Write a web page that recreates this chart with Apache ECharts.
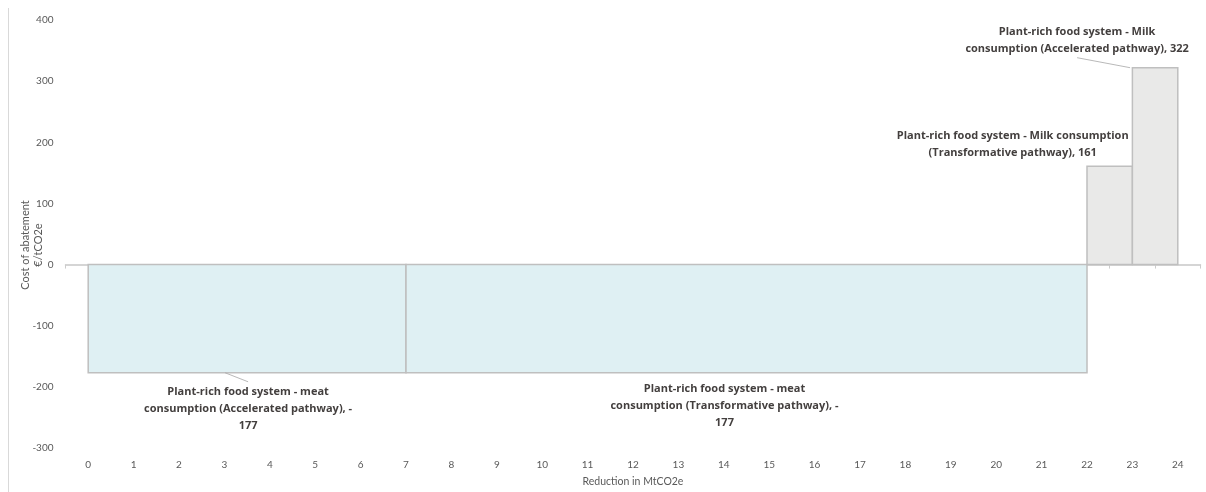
<!DOCTYPE html>
<html>
<head>
<meta charset="utf-8">
<script src="https://cdn.jsdelivr.net/npm/echarts@6/dist/echarts.min.js"></script>
<style>
  html, body { margin: 0; padding: 0; background: #ffffff; }
  #chart { width: 1206px; height: 492px; }
</style>
</head>
<body>
<div id="chart"></div>
<script>
// Abatement measures, their reduction volumes (MtCO2e) and costs (€/tCO2e)
const measureNames = [
  'Plant-rich food system - meat\nconsumption (Accelerated pathway)',
  'Plant-rich food system - meat\nconsumption (Transformative pathway)',
  'Plant-rich food system - Milk consumption\n(Transformative pathway)',
  'Plant-rich food system - Milk\nconsumption (Accelerated pathway)'
];
const reductionVolumes = [7, 15, 1, 1];
const abatementCosts = [-177, -177, 161, 322];
const barColors = ['#dff0f3', '#dff0f3', '#e9e9e8', '#e9e9e8'];

// x-axis tick labels (cumulative reduction)
const xTickLabels = ['0','1','2','3','4','5','6','7','8','9','10','11','12','13','14','15','16','17','18','19','20','21','22','23','24'];

// Label placement relative to the bar edge (pixels)
const labelPlacement = [
  { dx: 1,   dy: 11,  breakValue: true,  leader: [[-22, 0], [1, 9]] },
  { dx: -22, dy: 8,   breakValue: true,  leader: null },
  { dx: -97, dy: -39, breakValue: false, leader: null },
  { dx: -78, dy: -44, breakValue: false, leader: [[-78, -10], [-25, 0]] }
];

// Build [start, end, cost, index] rows from the volumes
const rows = [];
let cumulative = 0;
reductionVolumes.forEach((vol, i) => {
  rows.push([cumulative, cumulative + vol, abatementCosts[i], i]);
  cumulative += vol;
});

function labelText(i) {
  const v = String(abatementCosts[i]);
  const valuePart = labelPlacement[i].breakValue ? v.replace('-', '-\n') : v;
  return measureNames[i] + ', ' + valuePart;
}

const chart = echarts.init(document.getElementById('chart'), null, { renderer: 'canvas' });

const tickColor = '#595959';
const axisFont = 'Lato, "Open Sans", sans-serif';
const labelFont = '"Open Sans", Lato, sans-serif';

chart.setOption({
  animation: false,
  grid: { left: 65.5, right: 5.5, top: 20, bottom: 44 },
  xAxis: [
    {
      // bottom tick labels and axis title
      type: 'category',
      data: xTickLabels,
      position: 'bottom',
      axisLine: { show: false, onZero: false },
      axisTick: { show: false },
      axisLabel: { color: tickColor, fontSize: 10, fontFamily: axisFont, margin: 12 },
      name: 'Reduction in MtCO2e',
      nameLocation: 'middle',
      nameGap: 28,
      nameTextStyle: { color: tickColor, fontSize: 10.5, fontFamily: axisFont }
    },
    {
      // axis line with tick marks crossing zero
      type: 'category',
      data: xTickLabels,
      position: 'bottom',
      axisLine: { show: true, onZero: true, onZeroAxisIndex: 0, lineStyle: { color: '#c8c8c8', width: 1.5 } },
      axisTick: { show: true, length: 4, lineStyle: { color: '#cccccc', width: 1 } },
      axisLabel: { show: false }
    },
    {
      // continuous scale used to place bars
      type: 'value',
      min: -0.5,
      max: 24.5,
      show: false,
      axisLine: { onZero: false }
    }
  ],
  yAxis: {
    type: 'value',
    min: -300,
    max: 400,
    interval: 100,
    axisLine: { show: false },
    axisTick: { show: false },
    splitLine: { show: false },
    axisLabel: { color: tickColor, fontSize: 10, fontFamily: axisFont, margin: 12 }
  },
  graphic: [
    {
      type: 'line',
      shape: { x1: 8.5, y1: 8, x2: 8.5, y2: 492 },
      style: { stroke: '#d9d9d9', lineWidth: 1 },
      silent: true
    },
    {
      type: 'text',
      x: 32,
      y: 245,
      rotation: Math.PI / 2,
      style: {
        text: 'Cost of abatement\n€/tCO2e',
        fill: tickColor,
        font: '11px ' + axisFont,
        textAlign: 'center',
        textVerticalAlign: 'middle',
        lineHeight: 13
      },
      silent: true
    }
  ],
  series: [
    {
      type: 'custom',
      xAxisIndex: 2,
      yAxisIndex: 0,
      data: rows,
      encode: { x: [0, 1], y: 2 },
      renderItem: function (params, api) {
        const x0 = api.value(0), x1 = api.value(1), v = api.value(2);
        const i = api.value(3);
        const pBase = api.coord([x0, 0]);
        const pEnd = api.coord([x1, v]);
        const left = pBase[0], right = pEnd[0];
        const top = Math.min(pBase[1], pEnd[1]);
        const bottom = Math.max(pBase[1], pEnd[1]);
        const anchorX = (left + right) / 2;
        const anchorY = v < 0 ? bottom : top;
        const place = labelPlacement[i];
        const children = [
          {
            type: 'rect',
            shape: { x: left, y: top, width: right - left, height: bottom - top },
            style: { fill: barColors[i], stroke: '#bfbfbf', lineWidth: 1.5 }
          },
          {
            type: 'text',
            x: anchorX + place.dx,
            y: anchorY + place.dy,
            style: {
              text: labelText(i),
              fill: '#433f3e',
              font: 'bold 11px ' + labelFont,
              textAlign: 'center',
              textVerticalAlign: 'top',
              lineHeight: 17
            }
          }
        ];
        if (place.leader) {
          children.push({
            type: 'line',
            shape: {
              x1: anchorX + place.leader[0][0], y1: anchorY + place.leader[0][1],
              x2: anchorX + place.leader[1][0], y2: anchorY + place.leader[1][1]
            },
            style: { stroke: '#a6a6a6', lineWidth: 0.8 }
          });
        }
        return { type: 'group', children: children };
      },
      z: 1
    }
  ]
});
</script>
</body>
</html>
